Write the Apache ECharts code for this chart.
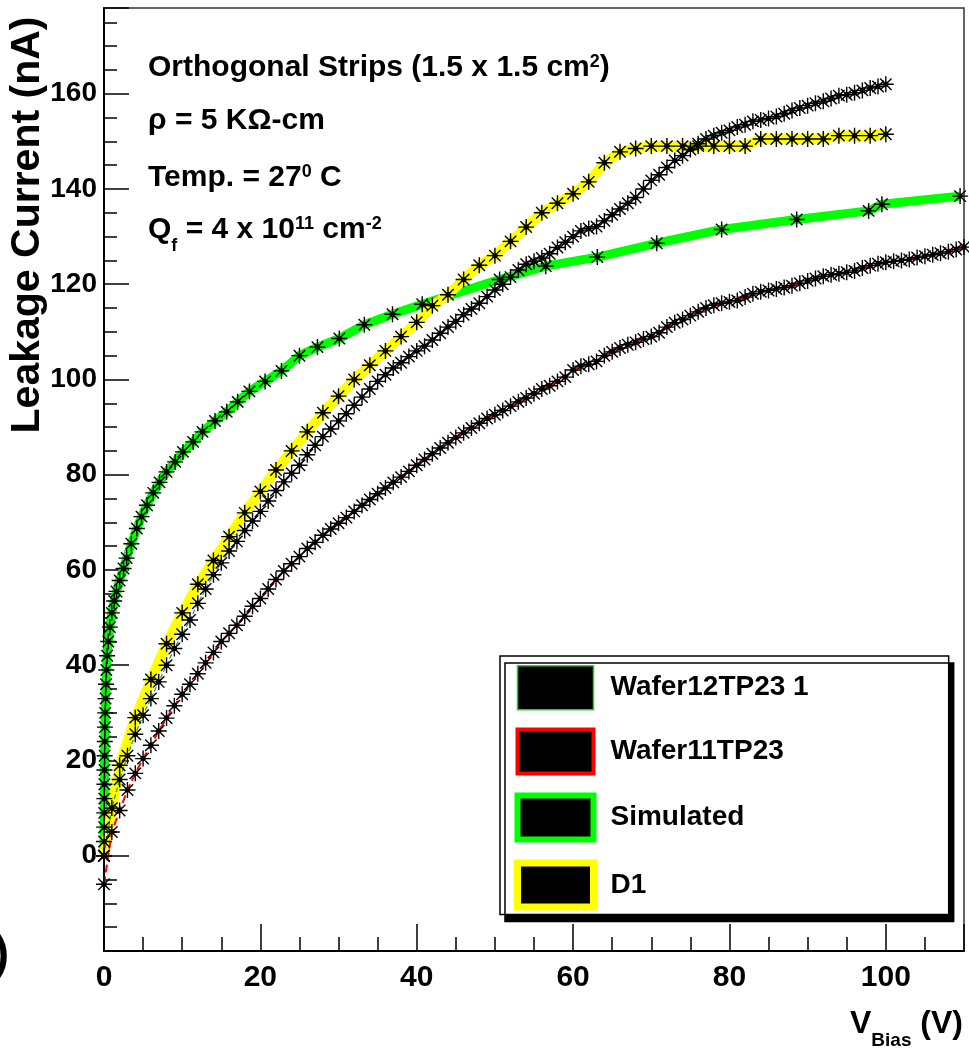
<!DOCTYPE html>
<html>
<head>
<meta charset="utf-8">
<script src="https://cdn.jsdelivr.net/npm/echarts@6/dist/echarts.min.js"></script>
<style>
  html, body { margin: 0; padding: 0; background: #fff; }
  #chart { width: 969px; height: 1054px; }
</style>
</head>
<body>
<div id="chart"></div>
<script>
// Wafer12TP23 1 (black stars, thin green line)
const wafer12V = [0,1,2,3,4,5,6,7,8,9,10,11,12,13,14,15,16,17,18,19,20,21,22,23,24,25,26,27,28,29,30,31,32,33,34,35,36,37,38,39,40,41,42,43,44,45,46,47,48,49,50,51,52,53,54,55,56,57,58,59,60,61,62,63,64,65,66,67,68,69,70,71,72,73,74,75,76,77,78,79,80,81,82,83,84,85,86,87,88,89,90,91,92,93,94,95,96,97,98,99,100];
const wafer12I = [0,10,16,21,25.5,29.5,33,36.5,40,43.5,46.5,49.5,53,56,59,61.5,64,66,68.3,70.3,72.3,74.5,76.7,78.5,80.3,82,84.2,86.2,88,89.6,91.3,92.8,94.6,96.3,98,99.6,101,102.4,103.5,104.8,106,107,108.3,109.7,111,112.2,113.6,114.8,116,117.4,118.8,120,121.5,123,124.2,124.8,125.5,126.4,127.7,128.8,130,131.2,131.7,132.1,133.3,134.6,135.8,137,138.2,140,141.8,143,144.5,146,147,148.3,149.5,150.5,151.2,151.8,152.3,153,153.5,154.2,154.5,154.8,155.2,155.8,156.5,157,157.5,158,158.4,159,159.6,159.8,160.2,160.7,161.2,161.5,162];

// Wafer11TP23 (black stars, red line)
const wafer11V = [0,1,2,3,4,5,6,7,8,9,10,11,12,13,14,15,16,17,18,19,20,21,22,23,24,25,26,27,28,29,30,31,32,33,34,35,36,37,38,39,40,41,42,43,44,45,46,47,48,49,50,51,52,53,54,55,56,57,58,59,60,61,62,63,64,65,66,67,68,69,70,71,72,73,74,75,76,77,78,79,80,81,82,83,84,85,86,87,88,89,90,91,92,93,94,95,96,97,98,99,100,101,102,103,104,105,106,107,108,109,110];
const wafer11I = [-6,5,9.5,13.8,17.3,20.4,23.2,26.2,28.9,31.5,33.9,36,38.2,40.5,42.7,45,46.7,48.4,50.3,52.4,54,56,58,59.8,61.3,62.8,64.5,65.8,67.3,68.6,69.8,71,72.3,73.6,74.8,76,77.2,78.4,79.5,80.7,82,83.2,84.4,85.6,86.7,87.8,88.8,89.8,90.8,91.8,92.6,93.5,94.4,95.3,96.1,97,98,98.7,99.6,100.5,102,102.8,103.2,103.8,105,105.8,106.6,107.3,107.8,108.5,109,109.8,111,111.9,112.6,113.4,114.2,115,115.6,116,116.3,116.6,117.3,118,118.4,118.7,119,119.3,119.7,120.2,120.7,121.2,121.7,122,122.2,122.5,122.8,123.4,123.9,124.3,124.6,124.8,125,125.2,125.6,125.9,126.2,126.5,126.8,127.3,127.8];

// Simulated (thick green line)
const simV = [0,0.01,0.02,0.03,0.04,0.05,0.06,0.08,0.1,0.12,0.15,0.2,0.25,0.3,0.4,0.55,0.75,1.0,1.3,1.6,2.0,2.5,2.9,3.5,4.2,4.8,5.5,6.3,7.1,8,9.1,10.1,11.4,12.6,14.2,15.7,17.1,18.6,20.6,22.7,25,27.3,30.1,33.3,36.9,40.7,50.6,56.5,63.1,70.7,79,88.6,97.8,99.5,109.5];
const simI = [0,3,6,9,12,15,18,21,24,27,30,33,36,39,42,45,48,51,53.5,55.5,57.8,60.3,62.5,65.5,68.7,71.2,73.6,76.2,78.4,80.6,82.7,84.8,86.9,89,91.3,93.2,95.3,97.5,99.6,101.8,105,106.8,108.6,111.5,113.7,115.8,121,123.8,125.7,128.6,131.5,133.6,135.4,136.8,138.5];

// D1 (thick yellow line)
const d1V = [0,2,4,6,8,10,12,14,16,18,20,22,24,26,28,30,32,34,36,38,40,42,44,46,48,50,52,54,56,58,60,62,64,66,68,70,72,74,76,78,80,82,84,86,88,90,92,94,96,98,100];
const d1I = [0,19,29,37,44.5,51,57,62,67,72,76.5,81,85,89,93,96.5,100,103,106,109,112,115.5,117.8,121,124,126,129,132,135,137,139,141.5,145.5,147.8,148.5,149,149,149,149,149,149,149,150.5,150.5,150.5,150.5,150.5,151.2,151.2,151.2,151.5];

const xLabels = [0, 20, 40, 60, 80, 100];
const yLabels = [0, 20, 40, 60, 80, 100, 120, 140, 160];

const SANS = '"Liberation Sans", Arial, Helvetica, sans-serif';
const STAR = 'path://M0,-7L0,7M-7,0L7,0M-5,-5L5,5M-5,5L5,-5M-1.8,0A1.8,1.8,0,1,0,1.8,0A1.8,1.8,0,1,0,-1.8,0Z';

function zip(xs, ys) {
    return xs.map((x, i) => [x, ys[i]]);
}

function curve(name, xs, ys, color, width, type) {
    return {
        name: name,
        type: "line",
        data: zip(xs, ys),
        symbol: STAR,
        symbolSize: 16,
        showSymbol: true,
        itemStyle: { color: "#000", borderColor: "#000", borderWidth: 1.4 },
        lineStyle: { color: color, width: width, type: type },
        emphasis: { disabled: true },
        silent: true,
    };
}

const chart = echarts.init(document.getElementById("chart"));

const tickLine = { color: "#000", width: 1.5 };

const option = {
    animation: false,
    backgroundColor: "#fff",
    grid: {
        left: 104, top: 8, right: 5, bottom: 103,
        show: true, borderColor: "#333", borderWidth: 1.5,
    },
    xAxis: [
        {
            type: "value", min: 0, max: 110, interval: 20,
            axisLine: { show: true, onZero: false, lineStyle: { color: "#000", width: 2 } },
            axisTick: { inside: true, length: 27, lineStyle: tickLine },
            axisLabel: {
                formatter: v => xLabels.includes(v) ? String(v) : "",
                color: "#000", fontSize: 30, fontWeight: "bold", fontFamily: SANS, margin: 12,
            },
            splitLine: { show: false },
        },
        {
            type: "value", min: 0, max: 110, interval: 5, position: "bottom",
            axisLine: { show: false, onZero: false },
            axisTick: { inside: true, length: 14, lineStyle: tickLine },
            axisLabel: { show: false },
            splitLine: { show: false },
        },
    ],
    yAxis: [
        {
            type: "value", min: -20, max: 178, interval: 20,
            axisLine: { show: true, onZero: false, lineStyle: { color: "#000", width: 2 } },
            axisTick: { inside: true, length: 25, lineStyle: tickLine },
            axisLabel: {
                formatter: v => yLabels.includes(v) ? String(v) : "",
                color: "#000", fontSize: 28, fontWeight: "bold", fontFamily: SANS, margin: 7,
            },
            splitLine: { show: false },
        },
        {
            type: "value", min: -20, max: 178, interval: 5, position: "left",
            axisLine: { show: false, onZero: false },
            axisTick: { inside: true, length: 13, lineStyle: tickLine },
            axisLabel: { show: false },
            splitLine: { show: false },
        },
    ],
    legend: {
        orient: "vertical",
        left: 500, top: 656,
        padding: [9, 140, 4, 14],
        itemWidth: 76, itemHeight: 44, itemGap: 17,
        backgroundColor: "#fff", borderColor: "#000", borderWidth: 1.5,
        shadowColor: "#000", shadowBlur: 0, shadowOffsetX: 5, shadowOffsetY: 7,
        selectedMode: false,
        textStyle: { color: "#000", fontSize: 28, fontWeight: "bold", fontFamily: SANS, padding: [0, 0, 0, 12] },
        data: [
            { name: "Wafer12TP23 1", icon: "rect", itemStyle: { color: "#000", borderColor: "#3c3", borderWidth: 1.5 } },
            { name: "Wafer11TP23", icon: "rect", itemStyle: { color: "#000", borderColor: "#f00", borderWidth: 4 } },
            { name: "Simulated", icon: "rect", itemStyle: { color: "#000", borderColor: "#0f0", borderWidth: 6 } },
            { name: "D1", icon: "rect", itemStyle: { color: "#000", borderColor: "#ff0", borderWidth: 7 } },
        ],
    },
    series: [
        curve("Simulated", simV, simI, "#00ff00", 9, "solid"),
        curve("D1", d1V, d1I, "#ffff00", 10, "solid"),
        curve("Wafer12TP23 1", wafer12V, wafer12I, "#2f9a2f", 1.2, "dashed"),
        curve("Wafer11TP23", wafer11V, wafer11I, "#ff0000", 2, "dashed"),
    ],
    graphic: [
        {
            type: "text", x: 28, y: 225, rotation: Math.PI / 2,
            style: {
                text: "Leakage Current (nA)", fill: "#000",
                font: "bold 41px " + SANS, align: "center", verticalAlign: "middle",
            },
        },
        {
            type: "text", left: 148, top: 53,
            style: {
                text: "Orthogonal Strips (1.5 x 1.5 cm{sup|2})",
                fill: "#000", font: "bold 30px " + SANS,
                rich: { sup: { fontSize: 18, fontWeight: "bold", fontFamily: SANS, verticalAlign: "top" } },
            },
        },
        {
            type: "text", left: 148, top: 106,
            style: { text: "ρ = 5 KΩ-cm", fill: "#000", font: "bold 30px " + SANS },
        },
        {
            type: "text", left: 148, top: 163,
            style: {
                text: "Temp. = 27{sup|0} C",
                fill: "#000", font: "bold 30px " + SANS,
                rich: { sup: { fontSize: 18, fontWeight: "bold", fontFamily: SANS, verticalAlign: "top" } },
            },
        },
        {
            type: "text", left: 148, top: 215,
            style: {
                text: "Q{sub|f} = 4 x 10{sup|11} cm{sup|-2}",
                fill: "#000", font: "bold 30px " + SANS,
                rich: {
                    sup: { fontSize: 18, fontWeight: "bold", fontFamily: SANS, verticalAlign: "top" },
                    sub: { fontSize: 18, fontWeight: "bold", fontFamily: SANS, verticalAlign: "bottom", padding: [0, 0, -10, 0] },
                },
            },
        },
        {
            type: "text", right: 6, top: 1008,
            style: {
                text: "{v|V}{sub|Bias}{v| (V)}",
                fill: "#000",
                rich: {
                    v: { fontSize: 32, fontWeight: "bold", fontFamily: SANS, verticalAlign: "top" },
                    sub: { fontSize: 19, fontWeight: "bold", fontFamily: SANS, verticalAlign: "bottom", padding: [0, 0, -10, 0] },
                },
            },
        },
        {
            type: "text", x: 9, y: 955,
            style: { text: ")", fill: "#000", font: "bold 46px " + SANS, align: "right", verticalAlign: "middle" },
        },
    ],
};

chart.setOption(option);
</script>
</body>
</html>
